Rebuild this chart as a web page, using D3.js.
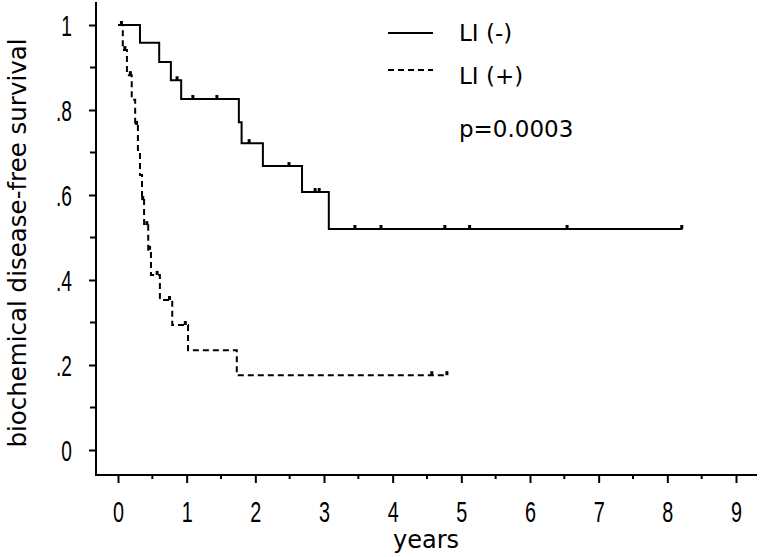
<!DOCTYPE html>
<html>
<head>
<meta charset="utf-8">
<script src="https://cdn.jsdelivr.net/npm/d3@7"></script>
<style>
  body { margin: 0; background: #fff; }
  svg { display: block; }
</style>
</head>
<body>
<svg id="chart" width="760" height="557"></svg>
<script>
"use strict";

// Kaplan-Meier curves, values

// LI (-) group
let negTimes = [0, 0.32, 0.60, 0.77, 0.92, 1.76, 1.80, 2.11, 2.68, 3.07, 8.22];
let negSurv = [1, 0.958, 0.913, 0.870, 0.826, 0.771, 0.722, 0.668, 0.607, 0.520, 0.520];
let negCensor = [0.86, 1.09, 1.44, 1.91, 2.49, 2.87, 2.93, 3.45, 3.83, 4.76, 5.12, 6.54, 8.21];

// LI (+) group
let posTimes = [0, 0.07, 0.13, 0.20, 0.25, 0.29, 0.32, 0.35, 0.38, 0.44, 0.48, 0.61, 0.79, 1.02, 1.73, 4.80];
let posSurv = [1, 0.941, 0.882, 0.824, 0.765, 0.706, 0.647, 0.588, 0.529, 0.471, 0.412, 0.353, 0.294, 0.235, 0.176, 0.176];
let posCensor = [0.05, 0.10, 0.18, 0.27, 0.36, 0.42, 0.46, 0.57, 0.75, 0.98, 4.57, 4.79];

let xTicks = [0, 1, 2, 3, 4, 5, 6, 7, 8, 9];
let yTicks = [0, 0.2, 0.4, 0.6, 0.8, 1];
let yTickLabels = ["0", ".2", ".4", ".6", ".8", "1"];
let legendLabels = ["LI (-)", "LI (+)"];
let pLabel = "p=0.0003";

let svg = d3.select("#chart");

let x = d3.scaleLinear().domain([0, 9]).range([118, 736]);
let y = d3.scaleLinear().domain([0, 1]).range([450, 25]);

let axisX = 96, axisY = 475;
let tickFont = "'Liberation Sans', Arial, sans-serif";
let textFont = "'DejaVu Sans', sans-serif";

// survival value at time t (step function)
let survAt = (times, surv, t) => {
  let i = d3.bisectRight(times, t) - 1;
  return surv[Math.max(0, i)];
};

// ---- axes ----
let gx = svg.append("g").attr("transform", `translate(0,${axisY})`);
gx.call(d3.axisBottom(x).tickValues(xTicks).tickSize(8).tickFormat(d3.format("d")));
gx.select(".domain").remove();
gx.selectAll(".tick line").attr("stroke", "#000").attr("stroke-width", 2);
gx.selectAll(".tick text")
  .attr("y", 47).attr("dy", 0)
  .attr("transform", "scale(0.66,1)")
  .style("font-family", tickFont).style("font-size", "30px").attr("fill", "#000");
// half-year minor ticks
gx.selectAll(".minor")
  .data(d3.range(0.5, 9, 1))
  .enter().append("line")
  .attr("x1", (d) => x(d)).attr("x2", (d) => x(d))
  .attr("y1", 0).attr("y2", 4)
  .attr("stroke", "#000").attr("stroke-width", 2);
gx.append("line")
  .attr("x1", axisX).attr("x2", 757)
  .attr("y1", 0).attr("y2", 0)
  .attr("stroke", "#000").attr("stroke-width", 2);

let gy = svg.append("g").attr("transform", `translate(${axisX},0)`);
gy.call(d3.axisLeft(y).tickValues(yTicks).tickSize(7).tickFormat((d, i) => yTickLabels[i]));
gy.select(".domain").remove();
gy.selectAll(".tick line").attr("stroke", "#000").attr("stroke-width", 2);
gy.selectAll(".tick text")
  .attr("x", 0).attr("dy", "0.36em")
  .attr("text-anchor", "end")
  .attr("transform", "translate(-24,0) scale(0.66,1)")
  .style("font-family", tickFont).style("font-size", "29px").attr("fill", "#000");
gy.selectAll(".minor")
  .data(d3.range(0.1, 1, 0.2))
  .enter().append("line")
  .attr("x1", -6).attr("x2", 0)
  .attr("y1", (d) => y(d)).attr("y2", (d) => y(d))
  .attr("stroke", "#000").attr("stroke-width", 2);
gy.append("line")
  .attr("x1", 0).attr("x2", 0)
  .attr("y1", 2).attr("y2", axisY + 1)
  .attr("stroke", "#000").attr("stroke-width", 2);

// axis titles
svg.append("text")
  .attr("x", 426).attr("y", 548)
  .attr("text-anchor", "middle")
  .style("font-family", textFont).style("font-size", "24px")
  .text("years");

svg.append("text")
  .attr("transform", "translate(26,243) rotate(-90)")
  .attr("text-anchor", "middle")
  .style("font-family", textFont).style("font-size", "24.5px")
  .text("biochemical disease-free survival");

// ---- curves ----
let stepLine = d3.line()
  .x((d) => x(d[0]))
  .y((d) => y(d[1]))
  .curve(d3.curveStepAfter);

let drawCurve = (times, surv, censor, dash) => {
  let pts = times.map((t, i) => [t, surv[i]]);
  svg.append("path")
    .datum(pts)
    .attr("d", stepLine)
    .attr("fill", "none")
    .attr("stroke", "#000")
    .attr("stroke-width", 2)
    .attr("stroke-dasharray", dash);
  svg.append("g")
    .selectAll("line")
    .data(censor)
    .enter().append("line")
    .attr("x1", (d) => x(d)).attr("x2", (d) => x(d))
    .attr("y1", (d) => y(survAt(times, surv, d)))
    .attr("y2", (d) => y(survAt(times, surv, d)) - 4)
    .attr("stroke", "#000").attr("stroke-width", 3);
};

drawCurve(negTimes, negSurv, negCensor, null);
drawCurve(posTimes, posSurv, posCensor, "6,4");

// ---- legend ----
let leg = svg.append("g");
leg.selectAll("line")
  .data(legendLabels)
  .enter().append("line")
  .attr("x1", 388).attr("x2", 433)
  .attr("y1", (d, i) => 33 + i * 37).attr("y2", (d, i) => 33 + i * 37)
  .attr("stroke", "#000").attr("stroke-width", 2)
  .attr("stroke-dasharray", (d, i) => i ? "6,4" : null);
leg.selectAll("text")
  .data(legendLabels)
  .enter().append("text")
  .attr("x", 459).attr("y", (d, i) => 41 + i * 43)
  .style("font-family", textFont).style("font-size", "23px")
  .text((d) => d);
leg.append("text")
  .attr("x", 459).attr("y", 137)
  .style("font-family", textFont).style("font-size", "23px")
  .text(pLabel);
</script>
</body>
</html>
